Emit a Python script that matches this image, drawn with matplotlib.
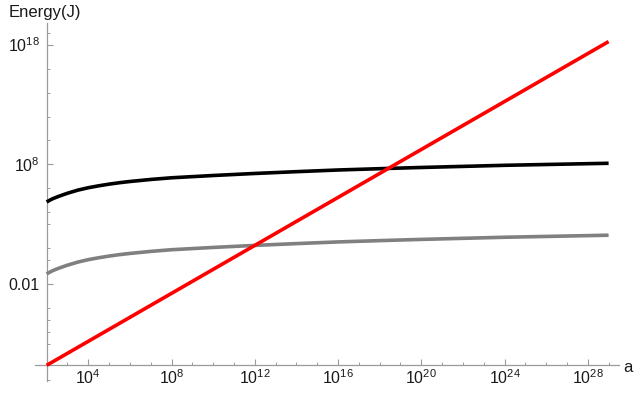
import numpy as np
import matplotlib
matplotlib.use("Agg")
import matplotlib.pyplot as plt
from matplotlib.ticker import NullFormatter

plt.rcParams['font.family'] = ['Liberation Sans', 'DejaVu Sans']
plt.rcParams['mathtext.fontset'] = 'custom'
plt.rcParams['mathtext.rm'] = 'Liberation Sans'
plt.rcParams['mathtext.default'] = 'regular'

# data (log10 values)
log_a = [2.0, 2.15, 2.3, 2.5, 2.75, 3.0, 3.5, 4.0, 4.5, 5.0, 5.5, 6.0, 7.0, 8.0, 10.0, 12.0, 14.0, 16.0, 18.4, 20.0, 24.0, 29.0]
log_E_black = [4.87, 5.02, 5.15, 5.29, 5.45, 5.60, 5.86, 6.06, 6.22, 6.36, 6.48, 6.58, 6.75, 6.89, 7.08, 7.25, 7.40, 7.54, 7.67, 7.75, 7.93, 8.10]
log_E_gray = [-1.13, -0.98, -0.85, -0.71, -0.55, -0.40, -0.14, 0.06, 0.22, 0.36, 0.48, 0.58, 0.75, 0.89, 1.08, 1.25, 1.40, 1.54, 1.67, 1.75, 1.93, 2.10]
log_a_red = [2.0, 29.0]
log_E_red = [-8.75, 18.25]

x_major = [4, 8, 12, 16, 20, 24, 28]
x_labels = [r'$10^{4}$', r'$10^{8}$', r'$10^{12}$', r'$10^{16}$', r'$10^{20}$', r'$10^{24}$', r'$10^{28}$']
y_major = [-2, 8, 18]
y_labels = ['0.01', r'$10^{8}$', r'$10^{18}$']
y_minor = [19, 16, 14, 12, 10, 6, 4, 3, 1, 0, -4, -5, -6, -7, -10]

fig = plt.figure(figsize=(6.4, 4.07), dpi=100)
ax = fig.add_axes([35/640, 26/407, 584/640, 358/407])

a = 10.0 ** np.array(log_a)
ax.plot(a, 10.0 ** np.array(log_E_gray), color='#808080', lw=2.6, solid_capstyle='butt',
        solid_joinstyle='round', zorder=3)
ax.plot(a, 10.0 ** np.array(log_E_black), color='black', lw=2.6, solid_capstyle='butt',
        solid_joinstyle='round', zorder=3)
ax.plot(10.0 ** np.array(log_a_red), 10.0 ** np.array(log_E_red), color='#FF0000', lw=2.6,
        solid_capstyle='butt', zorder=4)

ax.set_xscale('log')
ax.set_yscale('log')
ax.set_xlim(10 ** 1.44, 10 ** 29.5)
ax.set_ylim(10 ** -10.06, 10 ** 19.8)

axcol = '#9a9a9a'
for s in ['top', 'right']:
    ax.spines[s].set_visible(False)
ax.spines['left'].set_position(('data', 1e2))
ax.spines['bottom'].set_position(('data', 10 ** -8.75))
for s in ['left', 'bottom']:
    ax.spines[s].set_color(axcol)
    ax.spines[s].set_linewidth(0.9)

ax.set_xticks([10.0 ** v for v in x_major])
ax.set_xticklabels(x_labels)
ax.set_xticks([10.0 ** v for v in range(3, 30) if v not in x_major], minor=True)
ax.set_yticks([10.0 ** v for v in y_major])
ax.set_yticklabels(y_labels)
ax.set_yticks([10.0 ** v for v in y_minor], minor=True)
ax.xaxis.set_minor_formatter(NullFormatter())
ax.yaxis.set_minor_formatter(NullFormatter())

ax.tick_params(axis='both', which='major', direction='in', length=4, width=0.8, color=axcol,
               labelsize=11.5, labelcolor='#1a1a1a')
ax.tick_params(axis='both', which='minor', direction='in', length=2.2, width=0.7, color=axcol)
ax.tick_params(axis='x', which='major', pad=2)
ax.tick_params(axis='y', which='major', pad=5)

fig.text(9/640, 1 - 12/407, 'Energy(J)', fontsize=12, color='#1a1a1a', ha='left', va='center')
fig.text(623/640, 1 - 367/407, 'a', fontsize=12, color='#1a1a1a', ha='left', va='center')

fig.savefig('out.png', dpi=100)
